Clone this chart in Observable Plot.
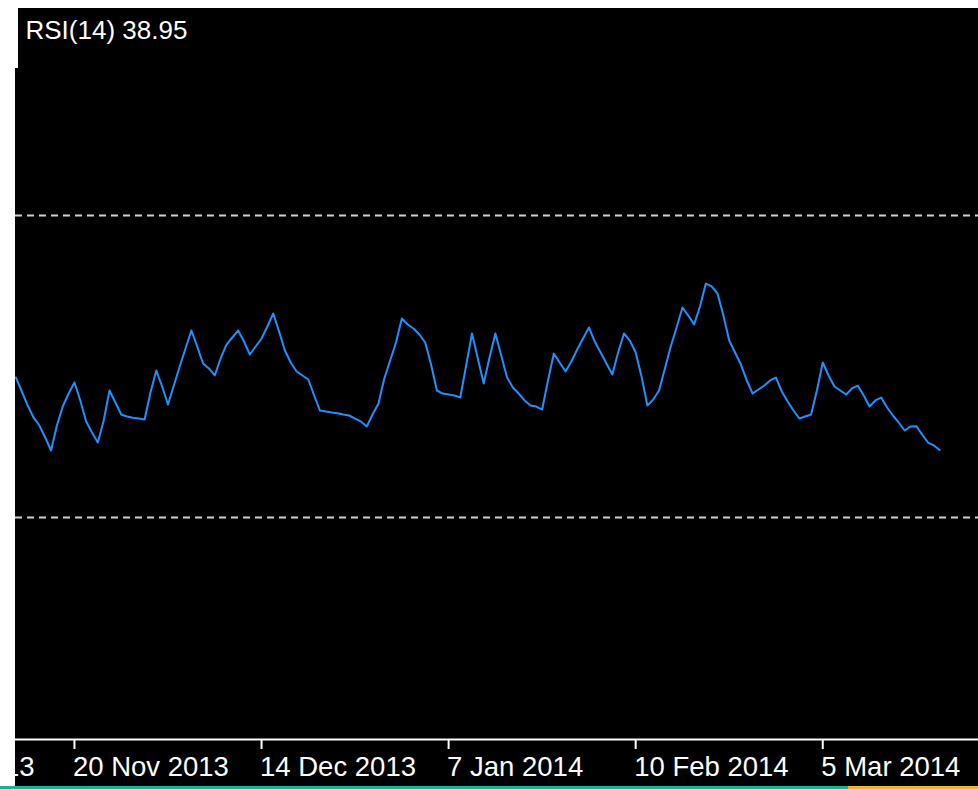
<!DOCTYPE html>
<html>
<head>
<meta charset="utf-8">
<script src="https://cdn.jsdelivr.net/npm/d3@7"></script>
<script src="https://cdn.jsdelivr.net/npm/@observablehq/plot@0.6"></script>
<style>
  html, body { margin: 0; padding: 0; background: #ffffff; }
  body { width: 978px; height: 789px; position: relative; overflow: hidden; }
  #chart { position: absolute; left: 15px; top: 8px; width: 963px; height: 778px; background: #000; }
  #notch { position: absolute; left: 15px; top: 8px; width: 3px; height: 60px; background: #fff; }
  #strip1 { position: absolute; left: 0; top: 786px; width: 848px; height: 3px; background: #17b294; }
  #strip2 { position: absolute; left: 848px; top: 786px; width: 130px; height: 3px; background: #f2b233; }
  svg text { font-family: "Liberation Sans", Arial, sans-serif; }
</style>
</head>
<body>
<div id="chart"></div>
<div id="notch"></div>
<div id="strip1"></div>
<div id="strip2"></div>
<script>
// RSI(14) values, one per bar (left to right)
const rsi = [
  48.54, 46.69, 44.83, 43.25, 42.19, 40.60, 38.87, 42.19, 44.70, 46.42,
  47.88, 45.50, 42.72, 41.26, 39.93, 42.85, 46.82, 45.23, 43.64, 43.38,
  43.20, 43.11, 42.98, 46.56, 49.47, 47.35, 44.97, 47.48, 50.00, 52.38,
  54.77, 52.65, 50.40, 49.74, 48.81, 51.06, 52.91, 53.84, 54.77, 53.31,
  51.59, 52.65, 53.71, 55.30, 57.02, 54.64, 52.12, 50.53, 49.34, 48.81,
  48.28, 46.16, 44.17, 44.04, 43.91, 43.80, 43.64, 43.51, 43.11, 42.72,
  42.05, 43.64, 45.10, 48.41, 50.79, 53.18, 56.36, 55.56, 55.03, 54.24,
  53.18, 50.26, 46.82, 46.42, 46.29, 46.16, 45.89, 50.13, 54.37, 51.06,
  47.75, 51.19, 54.37, 51.46, 48.54, 47.22, 46.42, 45.50, 44.83, 44.70,
  44.30, 48.15, 51.72, 50.53, 49.34, 50.66, 52.25, 53.71, 55.17, 53.31,
  51.85, 50.40, 48.94, 51.85, 54.37, 53.44, 51.85, 48.68, 44.83, 45.63,
  46.82, 49.74, 52.65, 55.17, 57.81, 56.75, 55.56, 57.95, 60.99, 60.60,
  59.67, 56.75, 53.44, 51.85, 50.26, 48.15, 46.42, 46.95, 47.48, 48.15,
  48.54, 46.69, 45.36, 44.17, 43.11, 43.38, 43.64, 46.82, 50.53, 48.81,
  47.35, 46.82, 46.29, 47.09, 47.48, 46.16, 44.70, 45.50, 45.89, 44.57,
  43.51, 42.58, 41.52, 42.05, 42.10, 40.99, 39.93, 39.54, 38.95
];

// Indicator levels
const levels = [30, 70];

// Date axis: bar index of each labelled tick and its label
const tickBars = [10, 42, 74, 106, 138];
const tickLabels = ["20 Nov 2013", "14 Dec 2013", "7 Jan 2014", "10 Feb 2014", "5 Mar 2014"];
const partialLabel = ["13"]; // tail of a clipped label at the left edge

const period = 14;
const title = `RSI(${period}) ${rsi[rsi.length - 1].toFixed(2)}`;

const points = rsi.map((v, i) => ({bar: i, value: v}));
const ticks = tickBars.map((b, i) => ({bar: b, label: tickLabels[i]}));

const chart = Plot.plot({
  width: 963,
  height: 778,
  marginLeft: 0,
  marginRight: 0,
  marginTop: 0,
  marginBottom: 47,
  style: {background: "transparent", color: "white", overflow: "hidden"},
  x: {domain: [-0.0855, 164.64], axis: null},
  y: {domain: [0.596, 97.417], axis: null},
  marks: [
    Plot.ruleY(levels, {stroke: "#cfcfcf", strokeWidth: 2, strokeDasharray: "7,5"}),
    Plot.lineY(points, {x: "bar", y: "value", stroke: "#1e90ff", strokeWidth: 2, clip: true}),
    Plot.frame({anchor: "bottom", stroke: "white", strokeWidth: 2}),
    Plot.axisX(tickBars, {tickSize: 10, stroke: "white", strokeWidth: 2, tickFormat: () => "", label: null}),
    Plot.text(ticks, {x: "bar", text: "label", frameAnchor: "bottom", dy: 36, dx: -1.5,
      lineAnchor: "bottom", textAnchor: "start", fill: "white", fontSize: 27.5}),
    Plot.text(partialLabel, {frameAnchor: "bottom-left", dx: -11.6, dy: 36,
      lineAnchor: "bottom", textAnchor: "start", fill: "white", fontSize: 27.5}),
    Plot.text([title], {frameAnchor: "top-left", dx: 10, dy: 30,
      lineAnchor: "bottom", textAnchor: "start", fill: "white", fontSize: 26})
  ]
});
document.getElementById("chart").appendChild(chart);
</script>
</body>
</html>
